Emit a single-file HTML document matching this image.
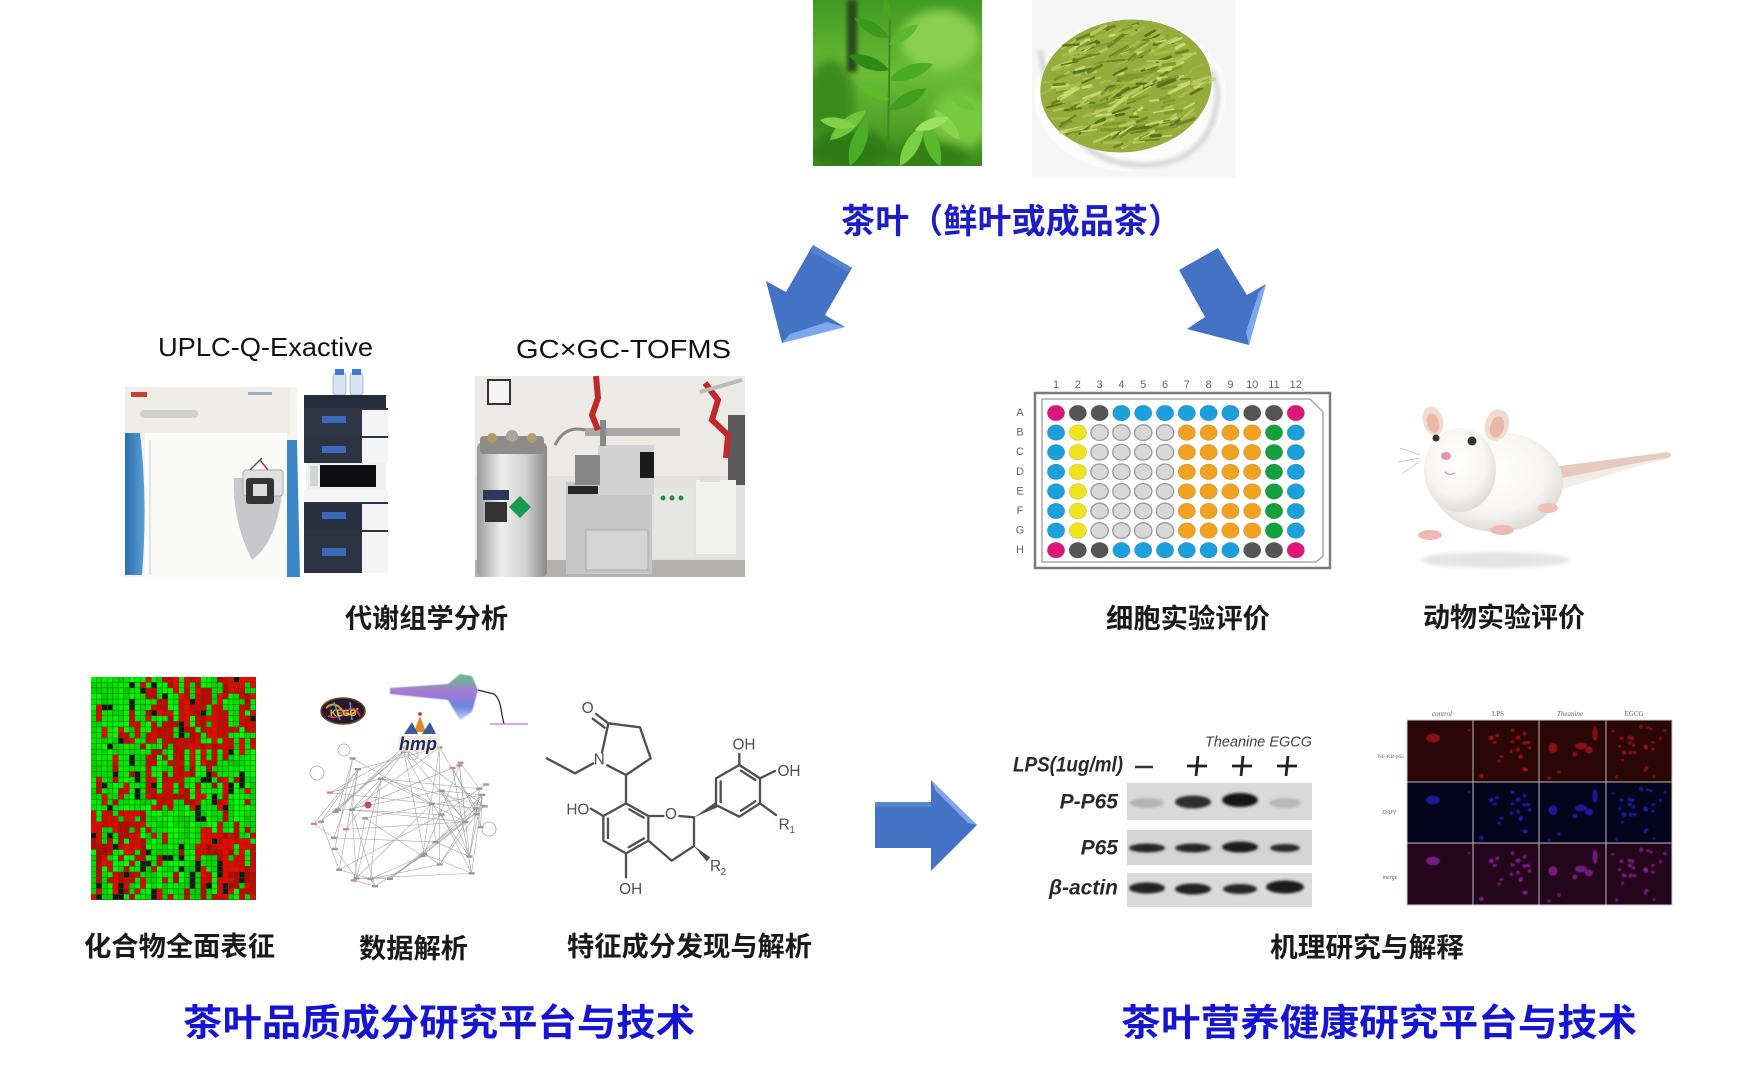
<!DOCTYPE html>
<html><head><meta charset="utf-8">
<style>
html,body{margin:0;padding:0;background:#fff;}
body{width:1761px;height:1079px;overflow:hidden;}
svg{display:block}
</style></head>
<body>
<svg id="s" width="1761" height="1079" viewBox="0 0 1761 1079" xmlns="http://www.w3.org/2000/svg" font-family="'Liberation Sans','Noto Sans CJK SC',sans-serif">
<defs>
 <filter id="b05" x="-20%" y="-20%" width="140%" height="140%"><feGaussianBlur stdDeviation="0.6"/></filter>
 <filter id="b1" x="-20%" y="-20%" width="140%" height="140%"><feGaussianBlur stdDeviation="1.2"/></filter>
 <filter id="b2" x="-30%" y="-30%" width="160%" height="160%"><feGaussianBlur stdDeviation="2.2"/></filter>
 <filter id="b5" x="-50%" y="-50%" width="200%" height="200%"><feGaussianBlur stdDeviation="5"/></filter>
 <clipPath id="leafclip"><rect x="813" y="0" width="169" height="166"/></clipPath>
 <clipPath id="teaclip"><rect x="1032" y="0" width="203" height="178"/></clipPath>
 <linearGradient id="leafbg" x1="0" y1="0" x2="0" y2="1">
   <stop offset="0" stop-color="#3f9a22"/><stop offset="0.45" stop-color="#6cbc36"/><stop offset="1" stop-color="#3a8c1c"/>
 </linearGradient>
 <linearGradient id="dewar" x1="0" y1="0" x2="1" y2="0">
   <stop offset="0" stop-color="#9a9a9a"/><stop offset="0.35" stop-color="#eeeeee"/><stop offset="0.7" stop-color="#d0d0d0"/><stop offset="1" stop-color="#8a8a8a"/>
 </linearGradient>
 <linearGradient id="blueL" x1="0" y1="0" x2="1" y2="0">
   <stop offset="0" stop-color="#2a6fae"/><stop offset="1" stop-color="#5a9fd6"/>
 </linearGradient>
 <radialGradient id="mouseBody" cx="0.45" cy="0.4" r="0.6">
   <stop offset="0" stop-color="#ffffff"/><stop offset="0.7" stop-color="#f6f5f3"/><stop offset="1" stop-color="#dedbd8"/>
 </radialGradient>
 <linearGradient id="spec" x1="0" y1="0" x2="0" y2="1">
   <stop offset="0" stop-color="#40c070"/><stop offset="0.4" stop-color="#9a60d0"/><stop offset="0.7" stop-color="#5070e0"/><stop offset="1" stop-color="#c0c8f0"/>
 </linearGradient>
 <path id="lf" d="M0 0C10-7 25-7 36 0C25 7 10 7 0 0Z"/>
</defs>

<!-- ===== Tea leaf photo ===== -->
<g clip-path="url(#leafclip)">
 <rect x="813" y="0" width="169" height="166" fill="url(#leafbg)"/>
 <g filter="url(#b5)">
  <ellipse cx="940" cy="40" rx="40" ry="30" fill="#8ad050"/>
  <ellipse cx="830" cy="100" rx="25" ry="40" fill="#3a8a1a"/>
  <ellipse cx="960" cy="120" rx="30" ry="30" fill="#78c840"/>
  <ellipse cx="850" cy="150" rx="40" ry="20" fill="#2e7a14"/>
  <ellipse cx="930" cy="155" rx="40" ry="15" fill="#357f18"/>
 </g>
 <rect x="847" y="0" width="10" height="72" fill="#2c4a1c" filter="url(#b2)"/>
 <g>
  <line x1="888" y1="150" x2="890" y2="18" stroke="#3f8a1e" stroke-width="2"/>
  <use href="#lf" transform="translate(889,22) rotate(-100) scale(0.7)" fill="#4aa424"/>
  <use href="#lf" transform="translate(889,38) rotate(-150) scale(1.1)" fill="#3a9a1c"/>
  <use href="#lf" transform="translate(889,45) rotate(-35) scale(1.0)" fill="#5cb82e"/>
  <use href="#lf" transform="translate(889,70) rotate(-160) scale(1.2)" fill="#2e8a16"/>
  <use href="#lf" transform="translate(889,80) rotate(-20) scale(1.3)" fill="#4aac22"/>
  <use href="#lf" transform="translate(889,100) rotate(-150) scale(1.1)" fill="#5cbc2c"/>
  <use href="#lf" transform="translate(889,110) rotate(-30) scale(1.2)" fill="#3e9e1e"/>
  <use href="#lf" transform="translate(830,140) rotate(-40) scale(1.3)" fill="#6ac83a"/>
  <use href="#lf" transform="translate(850,166) rotate(-70) scale(1.4)" fill="#4cae26"/>
  <use href="#lf" transform="translate(900,166) rotate(-60) scale(1.3)" fill="#7ad040"/>
  <use href="#lf" transform="translate(940,166) rotate(-110) scale(1.3)" fill="#5aba2e"/>
  <use href="#lf" transform="translate(960,140) rotate(-130) scale(1.1)" fill="#8ad44a"/>
  <use href="#lf" transform="translate(915,130) rotate(-20) scale(1.0)" fill="#a0e060"/>
  <use href="#lf" transform="translate(820,120) rotate(10) scale(1.0)" fill="#86d048"/>
  <use href="#lf" transform="translate(975,110) rotate(-150) scale(0.9)" fill="#6cc43a"/>
 </g>
</g>

<!-- ===== Dry tea photo ===== -->
<g clip-path="url(#teaclip)">
 <rect x="1032" y="0" width="203" height="178" fill="#f6f6f6"/>
 <ellipse cx="1130" cy="95" rx="96" ry="76" fill="#fbfbfb"/>
 <path d="M1040 50 Q1060 170 1150 165 Q1215 160 1218 90 L1212 70" fill="none" stroke="#d4d4d4" stroke-width="5" filter="url(#b2)"/>
 <ellipse cx="1126" cy="86" rx="86" ry="66" transform="rotate(-8 1126 86)" fill="#97ac3c"/>
 <g id="tealeaves"></g>
</g>

<!-- ===== Title ===== -->
<text x="841" y="222" font-size="34" font-weight="bold" fill="#1c1cc8" dominant-baseline="central" textLength="341" lengthAdjust="spacingAndGlyphs">茶叶（鲜叶或成品茶）</text>

<!-- ===== Down arrows ===== -->
<polygon points="813,245 852,268 825,315 845,327 782,343 766,281 786,292" fill="#4472c4"/>
<polygon points="782,343 845,327 827,322 790,334" fill="#7ea8ee"/>
<polygon points="813,245 852,268 848,272 812,252" fill="#5582d0"/>
<polygon points="1179,270 1218,248 1247,295 1266,284 1249,345 1187,329 1205,317" fill="#4472c4"/>
<polygon points="1266,284 1249,345 1246,332 1259,292" fill="#7ea8ee"/>

<!-- ===== Instrument labels ===== -->
<text x="158" y="347" font-size="26" fill="#111" dominant-baseline="central" font-family="'Liberation Sans',sans-serif" textLength="215" lengthAdjust="spacingAndGlyphs">UPLC-Q-Exactive</text>
<text x="516" y="349" font-size="26" fill="#111" dominant-baseline="central" font-family="'Liberation Sans','Noto Sans CJK SC',sans-serif" textLength="215" lengthAdjust="spacingAndGlyphs">GC×GC-TOFMS</text>

<!-- ===== UPLC instrument ===== -->
<g>
 <rect x="125" y="387" width="172" height="190" fill="#f5f4ef"/>
 <rect x="125" y="387" width="165" height="48" fill="#efede5"/>
 <rect x="131" y="392" width="16" height="5" fill="#c84030"/>
 <rect x="248" y="392" width="24" height="3" fill="#9ab0c8"/>
 <rect x="140" y="410" width="58" height="8" rx="4" fill="#d0d0cc"/>
 <path d="M125 433 L140 433 Q148 500 142 575 L125 575 Z" fill="url(#blueL)"/>
 <path d="M287 440 L297 440 L300 577 L287 577 Z" fill="#3b86c6"/>
 <rect x="145" y="433" width="142" height="144" fill="#fafaf8"/>
 <path d="M150 440 L150 575" stroke="#e2e2de" stroke-width="2"/>
 <path d="M234 478 Q232 520 252 560 Q280 540 283 478 Z" fill="#c8c8cc"/>
 <rect x="243" y="470" width="40" height="26" rx="3" fill="#e0e0e0" stroke="#aaa"/>
 <rect x="246" y="478" width="28" height="26" rx="3" fill="#333"/>
 <rect x="253" y="484" width="14" height="12" fill="#ddd"/>
 <line x1="250" y1="470" x2="262" y2="458" stroke="#555" stroke-width="1.5"/>
 <line x1="268" y1="470" x2="260" y2="460" stroke="#a33" stroke-width="1.5"/>
 <!-- LC stack -->
 <rect x="333" y="373" width="13" height="22" rx="3" fill="#d8e4f0" stroke="#9ab" stroke-width="0.8"/>
 <rect x="350" y="373" width="13" height="22" rx="3" fill="#d8e4f0" stroke="#9ab" stroke-width="0.8"/>
 <rect x="335" y="369" width="9" height="6" fill="#3a7ad0"/>
 <rect x="352" y="369" width="9" height="6" fill="#3a7ad0"/>
 <rect x="304" y="395" width="82" height="13" fill="#262d3a"/>
 <rect x="304" y="408" width="84" height="28" fill="#303848"/>
 <rect x="362" y="410" width="26" height="26" fill="#f4f4f4"/>
 <rect x="322" y="416" width="24" height="7" fill="#3d6ab8"/>
 <rect x="304" y="436" width="84" height="27" fill="#2c3444"/>
 <rect x="362" y="438" width="26" height="25" fill="#f4f4f4"/>
 <rect x="322" y="446" width="24" height="7" fill="#3d6ab8"/>
 <rect x="306" y="463" width="80" height="26" fill="#f0f0f0"/>
 <rect x="320" y="465" width="56" height="22" fill="#0e0e10"/>
 <rect x="310" y="466" width="8" height="20" fill="#cfd8d0"/>
 <rect x="304" y="502" width="84" height="28" fill="#2a3242"/>
 <rect x="362" y="504" width="26" height="26" fill="#f4f4f4"/>
 <rect x="322" y="512" width="24" height="7" fill="#3d6ab8"/>
 <rect x="304" y="530" width="84" height="43" fill="#2c3444"/>
 <rect x="362" y="532" width="26" height="41" fill="#f4f4f4"/>
 <rect x="322" y="548" width="24" height="8" fill="#3d6ab8"/>
 <rect x="304" y="489" width="84" height="13" fill="#f5f5f5"/>
</g>

<!-- ===== GC photo ===== -->
<g>
 <rect x="475" y="376" width="270" height="201" fill="#e4e2de"/>
 <rect x="475" y="376" width="270" height="100" fill="#ebeae6"/>
 <rect x="488" y="380" width="22" height="24" fill="#f5f5f5" stroke="#333" stroke-width="2"/>
 <rect x="475" y="560" width="270" height="17" fill="#b4b0ac"/>
 <rect x="728" y="415" width="17" height="70" fill="#5a5a5a"/>
 <rect x="477" y="442" width="70" height="135" rx="6" fill="url(#dewar)"/>
 <rect x="480" y="436" width="64" height="18" rx="4" fill="#8e8c88"/>
 <circle cx="492" cy="438" r="5" fill="#b09a60"/>
 <circle cx="512" cy="436" r="6" fill="#a8a8a0"/>
 <circle cx="532" cy="438" r="5" fill="#b0a070"/>
 <rect x="483" y="490" width="26" height="10" fill="#2a3a5a"/>
 <rect x="485" y="502" width="22" height="20" fill="#333"/>
 <polygon points="520,496 531,507 520,518 509,507" fill="#1a9a50"/>
 <rect x="566" y="482" width="86" height="92" fill="#c6c6c6"/>
 <rect x="568" y="486" width="82" height="8" fill="#262626"/>
 <rect x="586" y="530" width="62" height="40" fill="#d4d4d4" stroke="#aaa"/>
 <rect x="598" y="445" width="56" height="50" fill="#d2d2d2"/>
 <rect x="640" y="452" width="14" height="26" fill="#1c1c1c"/>
 <rect x="575" y="455" width="25" height="30" fill="#888"/>
 <rect x="585" y="428" width="95" height="8" fill="#a8a8a8"/>
 <rect x="600" y="420" width="6" height="26" fill="#888"/>
 <path d="M555 445 Q565 425 585 430" stroke="#888" stroke-width="3" fill="none"/>
 <rect x="654" y="488" width="40" height="70" fill="#e6e6e2"/>
 <circle cx="663" cy="498" r="2.5" fill="#2a8a4a"/><circle cx="672" cy="498" r="2.5" fill="#2a8a4a"/><circle cx="681" cy="498" r="2.5" fill="#2a8a4a"/>
 <rect x="696" y="480" width="40" height="74" fill="#f2f2f0"/>
 <rect x="700" y="476" width="20" height="6" fill="#ddd"/>
 <path d="M596 376 L598 398 L592 415 L598 430" stroke="#c0282a" stroke-width="6" fill="none"/>
 <path d="M705 383 L718 400 L712 420 L728 435 L726 458" stroke="#c0282a" stroke-width="6" fill="none"/>
 <line x1="700" y1="392" x2="742" y2="380" stroke="#bbb" stroke-width="4"/>
</g>

<!-- labels row 1 -->
<text x="345" y="619" font-size="27" font-weight="bold" fill="#1a1a1a" dominant-baseline="central" textLength="163" lengthAdjust="spacingAndGlyphs">代谢组学分析</text>
<text x="1106" y="619" font-size="27" font-weight="bold" fill="#1a1a1a" dominant-baseline="central" textLength="164" lengthAdjust="spacingAndGlyphs">细胞实验评价</text>
<text x="1423" y="618" font-size="27" font-weight="bold" fill="#1a1a1a" dominant-baseline="central" textLength="162" lengthAdjust="spacingAndGlyphs">动物实验评价</text>

<!-- ===== 96-well plate ===== -->
<g id="plate">
 <rect x="1035" y="393" width="295" height="175" fill="#fff" stroke="#7a7a7a" stroke-width="2.5"/>
 <path d="M1042 399 L1310 399 L1323 412 L1323 556 L1316 562 L1042 562 Z" fill="#fff" stroke="#a8a8a8" stroke-width="1.5"/>
</g>

<!-- ===== Mouse ===== -->
<g>
 <ellipse cx="1495" cy="560" rx="75" ry="8" fill="#e4e4e4" filter="url(#b2)"/>
 <path d="M1545 468 L1668 452 Q1674 455 1668 458 L1552 488 Z" fill="#e4cbbd"/>
 <path d="M1552 480 L1668 457 L1560 490 Z" fill="#f4ece6"/>
 <ellipse cx="1497" cy="482" rx="66" ry="50" fill="url(#mouseBody)"/>
 <ellipse cx="1460" cy="470" rx="36" ry="42" fill="url(#mouseBody)"/>
 <ellipse cx="1433" cy="421" rx="10" ry="15" transform="rotate(-15 1433 421)" fill="#f2dcd0"/>
 <ellipse cx="1433" cy="423" rx="6" ry="10" transform="rotate(-15 1433 423)" fill="#eab8a6"/>
 <ellipse cx="1497" cy="425" rx="12" ry="16" transform="rotate(15 1497 425)" fill="#f2dcd0"/>
 <ellipse cx="1497" cy="427" rx="7" ry="11" transform="rotate(15 1497 427)" fill="#eab8a6"/>
 <circle cx="1436" cy="438" r="3.5" fill="#333"/>
 <circle cx="1472" cy="441" r="4.5" fill="#333"/>
 <ellipse cx="1446" cy="456" rx="5" ry="4" fill="#e898a6"/>
 <path d="M1445 472 Q1450 476 1455 473" stroke="#e0a0a0" stroke-width="1.5" fill="none"/>
 <ellipse cx="1430" cy="535" rx="12" ry="5" fill="#f0b8b0"/>
 <ellipse cx="1502" cy="530" rx="12" ry="5" fill="#f0b8b0"/>
 <ellipse cx="1548" cy="508" rx="10" ry="5" fill="#f0c0b4"/>
 <path d="M1420 455 L1400 448 M1420 458 L1398 462 M1420 461 L1402 474" stroke="#bbb" stroke-width="0.7"/>
</g>

<!-- ===== Heatmap ===== -->
<g id="hm"><rect x="91" y="677" width="165" height="223" fill="#2a5a10"/></g>

<!-- ===== Network + logos ===== -->
<g id="net"></g>
<g>
 <ellipse cx="343" cy="711" rx="22" ry="13" fill="#2a1630" stroke="#6a4a20" stroke-width="1.5"/>
 <path d="M326 708 Q334 700 342 710 T358 708" stroke="#e0a020" stroke-width="2" fill="none"/>
 <path d="M328 716 Q338 720 346 712 T360 716" stroke="#d03060" stroke-width="2" fill="none"/>
 <path d="M334 702 L340 720 M350 702 L352 720" stroke="#40a0d0" stroke-width="1.5"/>
 <text x="330" y="716" font-size="9" font-weight="bold" fill="#e8d040" font-family="'Liberation Sans',sans-serif">KEGG</text>
 <polygon points="390,688 448,684 460,674 472,676 478,690 472,712 460,720 448,700 390,694" fill="url(#spec)" opacity="0.85" filter="url(#b05)"/>
 <path d="M478 690 L494 694 Q500 698 502 715 L504 724" stroke="#222" stroke-width="1.2" fill="none"/>
 <line x1="490" y1="724" x2="528" y2="724" stroke="#d070c0" stroke-width="1.2"/>
 <polygon points="414,732 420,716 426,732" fill="#e08a20"/>
 <polygon points="404,734 412,722 418,734" fill="#3a5aa0"/>
 <polygon points="422,734 430,722 436,734" fill="#3a5aa0"/>
 <circle cx="420" cy="714" r="1.8" fill="#d02020"/>
 <rect x="398" y="736" width="42" height="16" fill="#f0e4c8" opacity="0.6"/>
 <text x="399" y="750" font-size="18" font-weight="bold" font-style="italic" fill="#1e2a6a" font-family="'Liberation Sans',sans-serif">hmp</text>
</g>

<!-- ===== Chemical structure ===== -->
<g transform="translate(540,690) scale(0.33333)">
 <g stroke="#505050" stroke-width="7" fill="none" stroke-linecap="round" stroke-linejoin="round">
  <polyline points="20,205 105,250 160,220"/>
  <polyline points="186,188 205,100 300,112 332,205 258,255 202,226"/>
  <line x1="205" y1="100" x2="168" y2="72"/>
  <line x1="194" y1="113" x2="158" y2="86"/>
  <line x1="258" y1="255" x2="258" y2="340"/>
  <polygon points="258,340 325,378 325,452 258,490 190,452 190,378"/>
  <line x1="204" y1="386" x2="204" y2="444"/>
  <line x1="312" y1="445" x2="266" y2="472"/>
  <line x1="268" y1="358" x2="311" y2="383"/>
  <line x1="190" y1="378" x2="152" y2="356"/>
  <line x1="258" y1="490" x2="258" y2="562"/>
  <line x1="325" y1="378" x2="370" y2="378"/>
  <line x1="418" y1="378" x2="462" y2="382"/>
  <polyline points="462,382 462,468 395,512 325,452"/>
  <polygon points="528,345 528,265 598,225 660,265 660,340 598,380"/>
  <line x1="542" y1="274" x2="542" y2="336"/>
  <line x1="603" y1="242" x2="646" y2="270"/>
  <line x1="646" y1="334" x2="603" y2="362"/>
  <line x1="598" y1="225" x2="598" y2="192"/>
  <line x1="660" y1="265" x2="705" y2="243"/>
  <line x1="660" y1="340" x2="708" y2="375"/>
 </g>
 <polygon points="462,382 532,352 524,338" fill="#505050"/>
 <polygon points="462,468 500,514 511,502" fill="#505050"/>
 <g fill="#505050" font-size="46" font-family="'Liberation Sans',sans-serif" dominant-baseline="central">
  <text x="143" y="55" text-anchor="middle">O</text>
  <text x="178" y="210" text-anchor="middle">N</text>
  <text x="148" y="360" text-anchor="end">HO</text>
  <text x="393" y="374" text-anchor="middle">O</text>
  <text x="272" y="598" text-anchor="middle">OH</text>
  <text x="612" y="165" text-anchor="middle">OH</text>
  <text x="747" y="245" text-anchor="middle">OH</text>
  <text x="716" y="405">R</text>
  <text x="748" y="422" font-size="30">1</text>
  <text x="510" y="530">R</text>
  <text x="542" y="547" font-size="30">2</text>
 </g>
</g>

<!-- ===== Right arrow ===== -->
<polygon points="875,802 931,802 931,780 977,825 931,871 931,848 875,848" fill="#4472c4"/>
<polygon points="931,780 977,825 968,823 936,791" fill="#7ea8ee"/>
<rect x="875" y="802" width="56" height="5" fill="#5584d2"/>

<!-- ===== Western blot ===== -->
<g>
 <text x="1205" y="742" font-size="15" font-style="italic" fill="#444" dominant-baseline="central" font-family="'Liberation Sans',sans-serif" textLength="107" lengthAdjust="spacingAndGlyphs">Theanine EGCG</text>
 <text x="1013" y="765" font-size="21" font-style="italic" font-weight="bold" fill="#2a2a2a" dominant-baseline="central" font-family="'Liberation Sans',sans-serif" textLength="110" lengthAdjust="spacingAndGlyphs">LPS(1ug/ml)</text>
 <line x1="1135" y1="767" x2="1153" y2="767" stroke="#333" stroke-width="2.5"/>
 <g stroke="#222" stroke-width="2.8">
  <line x1="1187" y1="766" x2="1207" y2="766"/><line x1="1198" y1="756" x2="1196" y2="776"/>
  <line x1="1232" y1="766" x2="1252" y2="766"/><line x1="1243" y1="756" x2="1241" y2="776"/>
  <line x1="1277" y1="766" x2="1297" y2="766"/><line x1="1288" y1="756" x2="1286" y2="776"/>
 </g>
 <g font-size="21" font-style="italic" font-weight="bold" fill="#2a2a2a" dominant-baseline="central" font-family="'Liberation Sans',sans-serif" text-anchor="end">
  <text x="1118" y="802">P-P65</text>
  <text x="1118" y="848">P65</text>
  <text x="1118" y="888">β-actin</text>
 </g>
 <rect x="1127" y="783" width="185" height="37" fill="#d9d9d9"/>
 <rect x="1127" y="830" width="185" height="35" fill="#d4d4d4"/>
 <rect x="1127" y="873" width="185" height="34" fill="#dadada"/>
 <g filter="url(#b1)">
  <ellipse cx="1147" cy="803" rx="17" ry="5" fill="#b4b4b4"/>
  <ellipse cx="1193" cy="802" rx="18" ry="6.5" fill="#2e2e2e"/>
  <ellipse cx="1240" cy="800" rx="18" ry="7" fill="#161616"/>
  <ellipse cx="1285" cy="803" rx="16" ry="5" fill="#b8b8b8"/>
  <ellipse cx="1147" cy="848" rx="18" ry="4.5" fill="#262626"/>
  <ellipse cx="1193" cy="848" rx="18" ry="4.5" fill="#262626"/>
  <ellipse cx="1240" cy="847" rx="18" ry="5.5" fill="#1e1e1e"/>
  <ellipse cx="1285" cy="848" rx="15" ry="4" fill="#2a2a2a"/>
  <ellipse cx="1147" cy="888" rx="18" ry="5.5" fill="#222"/>
  <ellipse cx="1193" cy="889" rx="18" ry="5.5" fill="#222"/>
  <ellipse cx="1240" cy="889" rx="17" ry="5" fill="#262626"/>
  <ellipse cx="1285" cy="887" rx="19" ry="6.5" fill="#1a1a1a"/>
 </g>
</g>

<!-- ===== Fluorescence ===== -->
<g id="fl">
 <rect x="1407" y="720" width="265" height="62" fill="#2a0606"/>
 <rect x="1407" y="782" width="265" height="61" fill="#04041c"/>
 <rect x="1407" y="843" width="265" height="62" fill="#24061c"/>
</g>
<g font-family="'Liberation Serif',serif" font-size="7" fill="#666" text-anchor="middle" dominant-baseline="central">
 <text x="1442" y="714" font-style="italic">control</text>
 <text x="1498" y="714">LPS</text>
 <text x="1570" y="714" font-style="italic">Theanine</text>
 <text x="1634" y="714">EGCG</text>
 <text x="1391" y="757" font-size="5.5">NF-KB p65</text>
 <text x="1389" y="813" font-size="6" font-style="italic">DAPI</text>
 <text x="1390" y="878" font-size="6" font-style="italic">merge</text>
</g>

<!-- labels row 2 -->
<text x="84" y="947" font-size="27" font-weight="bold" fill="#1a1a1a" dominant-baseline="central" textLength="191" lengthAdjust="spacingAndGlyphs">化合物全面表征</text>
<text x="359" y="949" font-size="27" font-weight="bold" fill="#1a1a1a" dominant-baseline="central" textLength="109" lengthAdjust="spacingAndGlyphs">数据解析</text>
<text x="567" y="947" font-size="27" font-weight="bold" fill="#1a1a1a" dominant-baseline="central" textLength="245" lengthAdjust="spacingAndGlyphs">特征成分发现与解析</text>
<text x="1270" y="948" font-size="27" font-weight="bold" fill="#1a1a1a" dominant-baseline="central" textLength="194" lengthAdjust="spacingAndGlyphs">机理研究与解释</text>

<!-- bottom titles -->
<text x="183" y="1023" font-size="37" font-weight="bold" fill="#1414d2" dominant-baseline="central" textLength="512" lengthAdjust="spacingAndGlyphs">茶叶品质成分研究平台与技术</text>
<text x="1121" y="1023" font-size="37" font-weight="bold" fill="#1414d2" dominant-baseline="central" textLength="516" lengthAdjust="spacingAndGlyphs">茶叶营养健康研究平台与技术</text>
</svg>

<script>
(function(){
var NS='http://www.w3.org/2000/svg';
function el(p,t,a){var e=document.createElementNS(NS,t);for(var k in a)e.setAttribute(k,a[k]);p.appendChild(e);return e;}
var seed=12345;function rnd(){seed=(seed*1664525+1013904223)>>>0;return seed/4294967296;}

var tl=document.getElementById('tealeaves');
var tcols=['#b8c85a','#7e9a2c','#a6bc48','#c8d870','#6a8424','#9cb440','#5a7220'];
for(var i=0;i<300;i++){
  var a=rnd()*Math.PI*2,r=Math.sqrt(rnd());
  var cx=1126+Math.cos(a)*r*80,cy=86+Math.sin(a)*r*60;
  var ang=-40+rnd()*40,len=8+rnd()*14;
  var dx=Math.cos(ang*Math.PI/180)*len,dy=Math.sin(ang*Math.PI/180)*len;
  el(tl,'line',{x1:cx-dx/2,y1:cy-dy/2,x2:cx+dx/2,y2:cy+dy/2,stroke:tcols[Math.floor(rnd()*7)],'stroke-width':1.5+rnd()*2,'stroke-linecap':'round'});
}

var pl=document.getElementById('plate');
var M='#e0157a',D='#555555',B='#1ba0dc',Y='#f0e41e',L='#d8d8d8',O='#f0a220',G='#14a03c';
var edge=[M,D,D,B,B,B,B,B,B,D,D,M],mid=[B,Y,L,L,L,L,O,O,O,O,G,B];
var rows='ABCDEFGH';
for(var c=0;c<12;c++){
  var t=el(pl,'text',{x:1056+c*21.8,y:385,'font-size':11,fill:'#666','text-anchor':'middle','dominant-baseline':'central','font-family':'Liberation Sans, sans-serif'});t.textContent=(c+1);
}
for(var r=0;r<8;r++){
  var t2=el(pl,'text',{x:1020,y:413+r*19.6,'font-size':11,fill:'#666','text-anchor':'middle','dominant-baseline':'central','font-family':'Liberation Sans, sans-serif'});t2.textContent=rows[r];
  for(var c2=0;c2<12;c2++){
    var col=(r==0||r==7)?edge[c2]:mid[c2];
    el(pl,'ellipse',{cx:1056+c2*21.8,cy:413+r*19.6,rx:8.7,ry:7.8,fill:col,stroke:col==L?'#9a9a9a':'rgba(0,0,0,0.15)','stroke-width':col==L?1.3:0.8});
  }
}

var hm=document.getElementById('hm');
var NC=30,NR=40,cw=165/NC,ch=223/NR;
function pr(r,c){
  var g=c<10?0:(c<20?1:2);
  if(r<14) return [0.15,0.62,0.55][g];
  if(r<24) return [0.2,0.5,0.42][g];
  if(r<27) return [0.85,0.06,0.18][g];
  return [0.45,0.12,0.68][g];
}
seed=777;var prev=[];
for(var r=0;r<NR;r++){var cur=[];for(var c=0;c<NC;c++){
  var p=pr(r,c),x=rnd(),col;
  if(r>0&&rnd()<0.35){col=prev[c];}
  else if(x<0.07)col='#151515';else if(rnd()<p){var v=190+Math.floor(rnd()*65);col='rgb('+v+',0,0)';}else{var v2=205+Math.floor(rnd()*50);col='rgb(0,'+v2+',0)';}
  cur.push(col);
  el(hm,'rect',{x:91+c*cw,y:677+r*ch,width:cw-0.5,height:ch-0.5,fill:col});
}prev=cur;}

var net=document.getElementById('net');
seed=4242;var nodes=[];
for(var i=0;i<42;i++){
  var a=rnd()*Math.PI*2,rr=Math.pow(rnd(),0.35);
  nodes.push([408+Math.cos(a)*rr*98,822+Math.sin(a)*rr*80]);
}
for(var i=0;i<nodes.length;i++){
  for(var k=0;k<3;k++){
    var j=Math.floor(rnd()*nodes.length);if(j==i)continue;
    var dx=nodes[i][0]-nodes[j][0],dy=nodes[i][1]-nodes[j][1];
    if(Math.sqrt(dx*dx+dy*dy)>120)continue;
    el(net,'line',{x1:nodes[i][0],y1:nodes[i][1],x2:nodes[j][0],y2:nodes[j][1],stroke:'#a8a8a8','stroke-width':0.6});
  }
}
for(var i=0;i<nodes.length;i++){
  el(net,'rect',{x:nodes[i][0]-3,y:nodes[i][1]-1.2,width:6,height:2.4,fill:rnd()<0.3?'#e08090':'#999'});
}
el(net,'circle',{cx:368,cy:805,r:3.5,fill:'#d04060'});
[[344,750,6],[317,773,7],[489,829,7],[413,755,5]].forEach(function(q){el(net,'circle',{cx:q[0],cy:q[1],r:q[2],fill:'none',stroke:'#aaa','stroke-width':0.8});});

var fl=document.getElementById('fl');
var cx0=[1407,1473,1539,1606],ry0=[720,782,843],fc=['#a81414','#2222c0','#9020a0'];
seed=99;
var pts=[[],[],[],[]];
pts[0]=[[26,18,7,4.5],[62,10,1.3,1.3]];
for(var i=0;i<20;i++)pts[1].push([8+rnd()*50,10+rnd()*48,1.5+rnd()*1.2,1.3+rnd()*1]);
pts[2]=[[14,28,4.5,5],[42,26,6,3.5],[50,30,4,3.5],[36,34,2.5,2.5],[20,52,1.8,1.8],[10,58,1.8,1.8],[56,14,2.5,7]];
for(var i=0;i<26;i++)pts[3].push([6+rnd()*56,6+rnd()*52,1.3+rnd()*1,1.2+rnd()*0.9]);
for(var r=0;r<3;r++)for(var c=0;c<4;c++){
  pts[c].forEach(function(q){el(fl,'ellipse',{cx:cx0[c]+q[0],cy:ry0[r]+q[1],rx:q[2],ry:q[3],fill:fc[r],opacity:0.75,filter:'url(#b05)'});});
}
for(var c=1;c<4;c++)el(fl,'line',{x1:cx0[c],y1:720,x2:cx0[c],y2:905,stroke:'#bbb','stroke-width':1});
el(fl,'line',{x1:1407,y1:782,x2:1672,y2:782,stroke:'#bbb','stroke-width':1});
el(fl,'line',{x1:1407,y1:843,x2:1672,y2:843,stroke:'#bbb','stroke-width':1});
el(fl,'rect',{x:1407,y:720,width:265,height:185,fill:'none',stroke:'#ccc','stroke-width':1});
})();
</script>
</body></html>
